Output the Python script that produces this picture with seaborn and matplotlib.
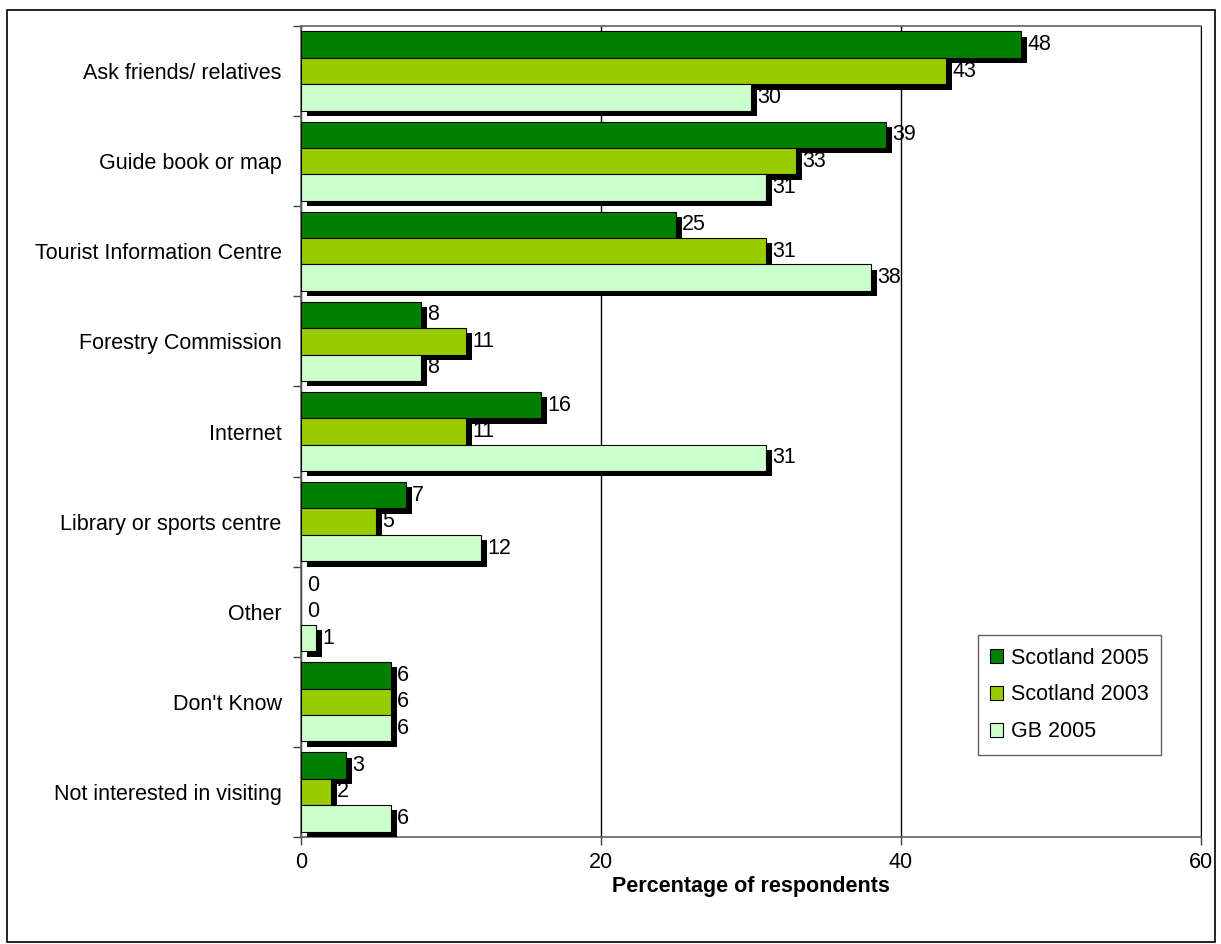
import pandas as pd
import matplotlib.pyplot as plt
import matplotlib.patheffects as pe
from matplotlib.patches import Rectangle
from matplotlib.ticker import FixedLocator
import seaborn as sns

categories = ["Ask friends/ relatives", "Guide book or map", "Tourist Information Centre",
              "Forestry Commission", "Internet", "Library or sports centre", "Other",
              "Don't Know", "Not interested in visiting"]
scotland_2005 = [48, 39, 25, 8, 16, 7, 0, 6, 3]
scotland_2003 = [43, 33, 31, 11, 11, 5, 0, 6, 2]
gb_2005 = [30, 31, 38, 8, 31, 12, 1, 6, 6]
series = ["Scotland 2005", "Scotland 2003", "GB 2005"]
colors = ["#008000", "#99CC00", "#CCFFCC"]

df = pd.DataFrame({"Scotland 2005": scotland_2005, "Scotland 2003": scotland_2003,
                   "GB 2005": gb_2005}, index=categories)
long = df.reset_index(names="cat").melt(id_vars="cat", var_name="series", value_name="pct")

sns.set_style("white")
plt.rcParams['font.family'] = ['Liberation Sans', 'DejaVu Sans']
plt.rcParams.update({"text.color": "black", "axes.labelcolor": "black",
                     "xtick.color": "black", "ytick.color": "black"})
fs = 15.5

fig = plt.figure(figsize=(12.21, 9.44), dpi=100)
ax = fig.add_axes([301 / 1221, 1 - 837 / 944, 900 / 1221, 811 / 944])

sns.barplot(data=long, y="cat", x="pct", hue="series", hue_order=series, order=categories,
            palette=colors, orient="h", width=0.88, edgecolor="black", linewidth=0.8,
            saturation=1, ax=ax, legend=True, zorder=3)

# excel-style drop shadow behind each bar
shadow = [pe.SimplePatchShadow(offset=(4.2, -3.8), shadow_rgbFace="black", alpha=1), pe.Normal()]
for cont in ax.containers:
    for bar in cont:
        bar.set_path_effects(shadow)
        if bar.get_width() == 0:
            bar.set_visible(False)
    ax.bar_label(cont, fmt="%g", padding=4.5, fontsize=fs, color="black")

ax.set_xlim(0, 60)
ax.set_ylim(8.5, -0.5)
ax.set_xticks([0, 20, 40, 60])
ax.tick_params(axis="x", labelsize=fs, length=6, width=1, color="#404040", pad=5, bottom=True)
ax.tick_params(axis="y", which="major", labelsize=fs, length=0, pad=14)
ax.yaxis.set_minor_locator(FixedLocator([i - 0.5 for i in range(10)]))
ax.tick_params(axis="y", which="minor", length=6, width=1, color="#404040", left=True)
ax.xaxis.grid(True, color="black", linewidth=1)
ax.set_axisbelow(True)

ax.set_ylabel("")
ax.set_xlabel("Percentage of respondents", fontsize=fs, fontweight="bold", labelpad=2)
for side in ["top", "bottom", "left"]:
    ax.spines[side].set_color("#606060")
    ax.spines[side].set_linewidth(1.2)
ax.spines["right"].set_color("black")

leg = ax.legend(loc="upper left", bbox_to_anchor=(0.752, 0.249), borderaxespad=0, fontsize=fs,
                frameon=True, fancybox=False, edgecolor="#606060", framealpha=1,
                handlelength=0.6, handleheight=0.6, handletextpad=0.35, labelspacing=0.74,
                borderpad=0.58)
leg.get_frame().set_linewidth(1)
for h in leg.legend_handles:
    h.set_edgecolor("black")
    h.set_path_effects([])

fig.patches.append(Rectangle((7 / 1221, 0.002), 1208 / 1221, 0.987, transform=fig.transFigure,
                             fill=False, edgecolor="black", linewidth=1.2))

fig.savefig("out.png", dpi=100)
